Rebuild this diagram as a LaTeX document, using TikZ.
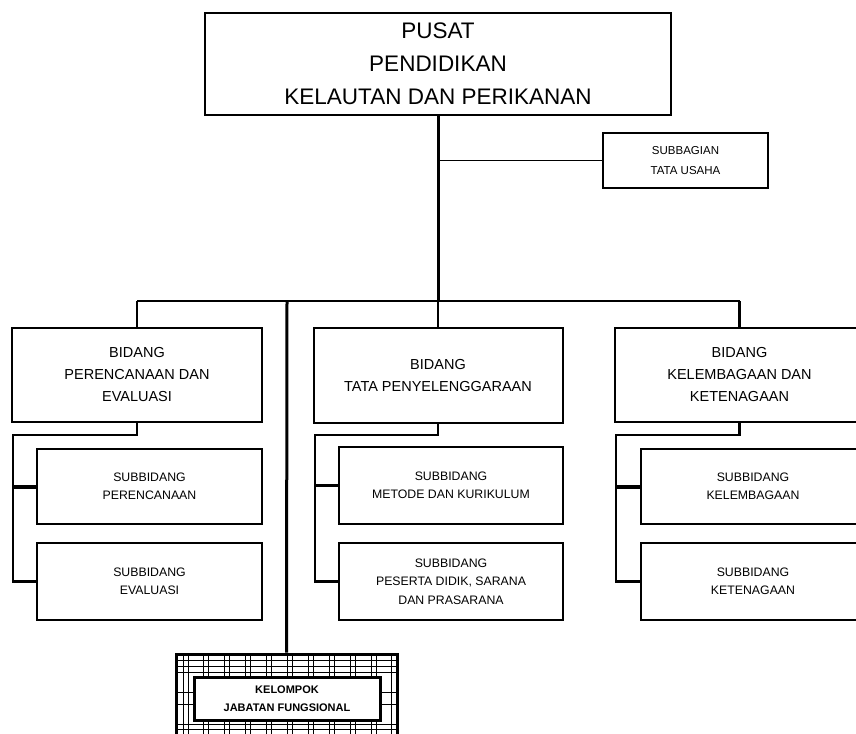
\documentclass[tikz,border=0pt]{standalone}
\usepackage{fontspec}
\setmainfont{Liberation Sans}
\begin{document}
\begin{tikzpicture}[x=1pt,y=-1pt,
  box/.style={draw=black,line width=2pt,fill=white,align=center,inner sep=0pt},
  topfont/.style={font=\fontsize{22.5}{33}\selectfont},
  bidfont/.style={font=\fontsize{14.5}{22}\selectfont},
  subfont/.style={font=\fontsize{12.3}{18.5}\selectfont},
  conn/.style={draw=black,line width=2.5pt},
  tie/.style={draw=black,line width=4pt},
  thin/.style={draw=black,line width=1.5pt},
  grid/.style={draw=black,line width=0.8pt}]
\clip (0,0) rectangle (856,733);
\fill[white] (0,0) rectangle (856,733);

% top
\node[box,topfont,minimum width=466pt,minimum height=102pt] (top) at (438,64)
  {PUSAT\\PENDIDIKAN\\KELAUTAN DAN PERIKANAN};
\node[box,font=\fontsize{11.5}{20}\selectfont,minimum width=165pt,minimum height=55pt] (subbag) at (685.5,160.5)
  {SUBBAGIAN\\TATA USAHA};

% bidang
\node[box,bidfont,minimum width=250pt,minimum height=94pt] (bidL) at (137,375)
  {BIDANG\\PERENCANAAN DAN\\EVALUASI};
\node[box,bidfont,minimum width=249pt,minimum height=95pt] (bidM) at (438,375.5)
  {BIDANG\\TATA PENYELENGGARAAN};
\node[box,bidfont,minimum width=249pt,minimum height=94pt] (bidR) at (739.5,375)
  {BIDANG\\KELEMBAGAAN DAN\\KETENAGAAN};

% subbidang
\node[box,subfont,minimum width=225pt,minimum height=75pt] (subL1) at (149.5,486.5)
  {SUBBIDANG\\PERENCANAAN};
\node[box,subfont,minimum width=225pt,minimum height=77pt] (subL2) at (149.5,581.5)
  {SUBBIDANG\\EVALUASI};
\node[box,subfont,minimum width=224pt,minimum height=77pt] (subM1) at (451,485.5)
  {SUBBIDANG\\METODE DAN KURIKULUM};
\node[box,subfont,minimum width=224pt,minimum height=77pt] (subM2) at (451,581.5)
  {SUBBIDANG\\PESERTA DIDIK, SARANA\\DAN PRASARANA};
\node[box,subfont,minimum width=224pt,minimum height=75pt] (subR1) at (753,486.5)
  {SUBBIDANG\\KELEMBAGAAN};
\node[box,subfont,minimum width=224pt,minimum height=77pt] (subR2) at (753,581.5)
  {SUBBIDANG\\KETENAGAAN};

% kelompok jabatan fungsional
\node[draw=black,line width=3pt,minimum width=221pt,minimum height=92pt,inner sep=0pt] (kel) at (286.5,700) {};
\begin{scope}
  \clip (kel.south west) rectangle (kel.north east);
  \foreach \x in {183,203,224,245,266,287,308,329,350,371,391}
    {\draw[grid] (\x,654) -- (\x,746); \draw[grid] (\x+5,654) -- (\x+5,746);}
  \foreach \y in {660,666,672,724,729,734,692,704}
    \draw[grid] (176,\y) -- (397,\y);
\end{scope}
\node[box,line width=3pt,font=\bfseries\fontsize{11}{18}\selectfont,minimum width=186pt,minimum height=43pt] (kelin) at (287,698.5)
  {KELOMPOK\\JABATAN FUNGSIONAL};

% connectors
\coordinate (busL) at (137,301);
\coordinate (busR) at (739.5,301);
\coordinate (busK) at (287,301);
\draw[conn,line width=3pt] (top.south) -- (top.south |- busL);
\draw[thin] (top.south |- subbag.west) -- (subbag.west);
\draw[conn,line width=2pt] (busL) -- (busR);
\draw[conn] (busL) -- (bidL.north);
\draw[conn] (top.south |- busL) -- (bidM.north);
\draw[conn] (busR) -- (bidR.north);
\draw[conn,line width=3pt] (busK) -- (kel.north);

\coordinate (kL) at (13,435);
\coordinate (kM) at (315,435);
\coordinate (kR) at (616,435);
\draw[conn] (bidL.south) -- (bidL.south |- kL) -- (kL) -- (kL |- subL2.west) -- (subL2.west);
\draw[tie] (kL |- subL1.west) -- (subL1.west);
\draw[conn] (bidM.south) -- (bidM.south |- kM) -- (kM) -- (kM |- subM2.west) -- (subM2.west);
\draw[conn] (kM |- subM1.west) -- (subM1.west);
\draw[conn] (bidR.south) -- (bidR.south |- kR) -- (kR) -- (kR |- subR2.west) -- (subR2.west);
\draw[tie] (kR |- subR1.west) -- (subR1.west);
\end{tikzpicture}
\end{document}
